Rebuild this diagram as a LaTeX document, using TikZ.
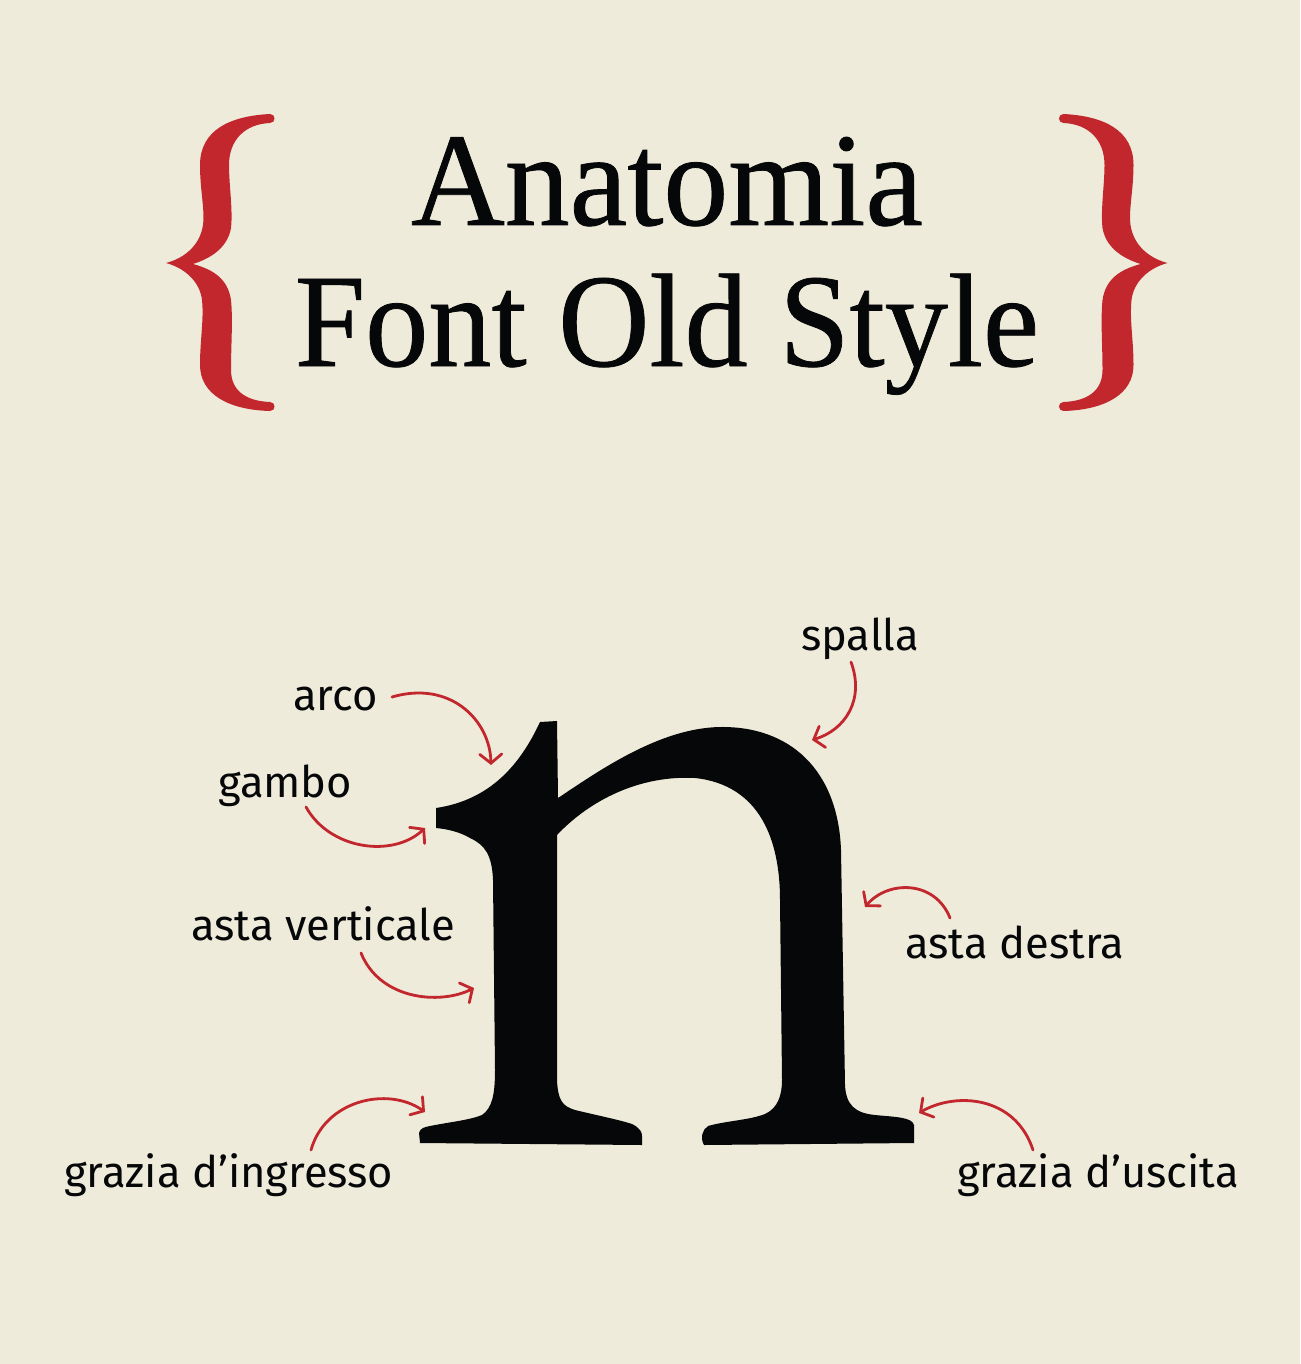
\documentclass[tikz,border=0pt]{standalone}
\usepackage{fontspec}
\setmainfont{Liberation Serif}[FakeBold=0.6]
\newfontfamily\labelfont{Fira Sans}
\usetikzlibrary{arrows.meta}
\definecolor{bg}{HTML}{EFEBDB}
\definecolor{bracered}{HTML}{C1272D}
\definecolor{ink}{HTML}{050708}
\tikzset{
  lbl/.style={anchor=base west, inner sep=0pt, font=\labelfont\fontsize{43.5}{43.5}\selectfont, text=ink},
  ttl/.style={anchor=base, inner sep=0pt, font=\fontsize{133}{133}\selectfont, text=ink},
  pointer/.style={draw=bracered, line width=2.8pt, line cap=round,
    -{Straight Barb[length=9pt,width=22pt,line cap=round]}},
  bracefill/.style={fill=bracered},
}
\begin{document}
\begin{tikzpicture}[x=1pt,y=-1pt]
\fill[bg] (0,0) rectangle (1300,1364);
\useasboundingbox (0,0) rectangle (1300,1364);

% braces
\def\bracepath{(270,114) .. controls (230,116) and (200,130) .. (200,165)
 .. controls (200,190) and (205,210) .. (203,225)
 .. controls (200,245) and (185,258) .. (166,263)
 .. controls (185,268) and (200,282) .. (202,300)
 .. controls (204,320) and (200,340) .. (200,365)
 .. controls (200,395) and (230,410) .. (270,411)
 .. controls (276,411) and (276,402) .. (270,402)
 .. controls (245,401) and (231,390) .. (231,370)
 .. controls (231,345) and (233,320) .. (231,300)
 .. controls (228,280) and (215,270) .. (193,264)
 .. controls (215,257) and (228,245) .. (231,228)
 .. controls (233,210) and (229,185) .. (229,165)
 .. controls (229,140) and (245,124) .. (270,123)
 .. controls (276,123) and (276,114) .. (270,114) -- cycle}
\fill[bracefill] \bracepath;
\begin{scope}[shift={(1333.5,0)}, xscale=-1]
\fill[bracefill] \bracepath;
\end{scope}

% title
\node[ttl] (t1) at (667,225) {\scalebox{0.976}[1]{Anatomia}};
\node[ttl] (t2) at (667,366) {\scalebox{0.95}[1]{Font Old Style}};

% the letter n
\fill[ink] (540,722) -- (557,721) -- (558,798)
 .. controls (600,770) and (660,728) .. (720,727)
 .. controls (790,726) and (838,770) .. (841,850)
 -- (845,1085)
 .. controls (846,1105) and (855,1113) .. (875,1115)
 .. controls (895,1117) and (912,1117) .. (914,1125)
 -- (914,1143) -- (704,1145)
 .. controls (700,1138) and (702,1130) .. (708,1126)
 .. controls (725,1121) and (750,1120) .. (765,1114)
 .. controls (778,1108) and (782,1095) .. (782,1080)
 -- (780,900)
 .. controls (780,840) and (760,785) .. (695,778)
 .. controls (640,775) and (590,800) .. (557,835)
 -- (557,1080)
 .. controls (558,1100) and (562,1106) .. (575,1110)
 .. controls (600,1116) and (620,1120) .. (632,1124)
 .. controls (640,1128) and (642,1132) .. (642,1136)
 -- (642,1145) -- (420,1143) -- (419,1133)
 .. controls (420,1128) and (425,1127) .. (430,1126)
 .. controls (450,1122) and (470,1120) .. (482,1115)
 .. controls (492,1108) and (495,1095) .. (495,1070)
 -- (493,880)
 .. controls (492,855) and (485,845) .. (470,838)
 .. controls (460,832) and (447,829) .. (436,828)
 -- (436,808)
 .. controls (490,800) and (520,765) .. (540,722) -- cycle;

% labels
\node[lbl] (arco) at (293,710) {arco};
\node[lbl] (gambo) at (218,797) {gambo};
\node[lbl] (astav) at (191,940) {asta verticale};
\node[lbl] (ingr) at (64,1187) {grazia d’ingresso};
\node[lbl] (spalla) at (801,650) {spalla};
\node[lbl] (astad) at (905,958) {asta destra};
\node[lbl] (usc) at (957,1187) {grazia d’uscita};

% connector endpoints
\coordinate (arcoS) at (392,697);   \coordinate (arcoT) at (491,765);
\coordinate (gamboS) at (306,807);  \coordinate (gamboT) at (425,828);
\coordinate (astavS) at (361,953);  \coordinate (astavT) at (474,988);
\coordinate (ingrS) at (311,1150);  \coordinate (ingrT) at (425,1112);
\coordinate (spallaS) at (851,662); \coordinate (spallaT) at (812,740);
\coordinate (astadS) at (950,918);  \coordinate (astadT) at (865,907);
\coordinate (uscS) at (1033,1150);  \coordinate (uscT) at (919,1113);

\draw[pointer] (arcoS) .. controls (450,680) and (490,720) .. (arcoT);
\draw[pointer] (gamboS) .. controls (330,850) and (393,858) .. (gamboT);
\draw[pointer] (astavS) .. controls (380,1000) and (440,1005) .. (astavT);
\draw[pointer] (ingrS) .. controls (325,1100) and (388,1086) .. (ingrT);
\draw[pointer] (spallaS) .. controls (865,700) and (845,730) .. (spallaT);
\draw[pointer] (astadS) .. controls (935,880) and (888,880) .. (astadT);
\draw[pointer] (uscS) .. controls (1015,1095) and (955,1092) .. (uscT);
\end{tikzpicture}
\end{document}
